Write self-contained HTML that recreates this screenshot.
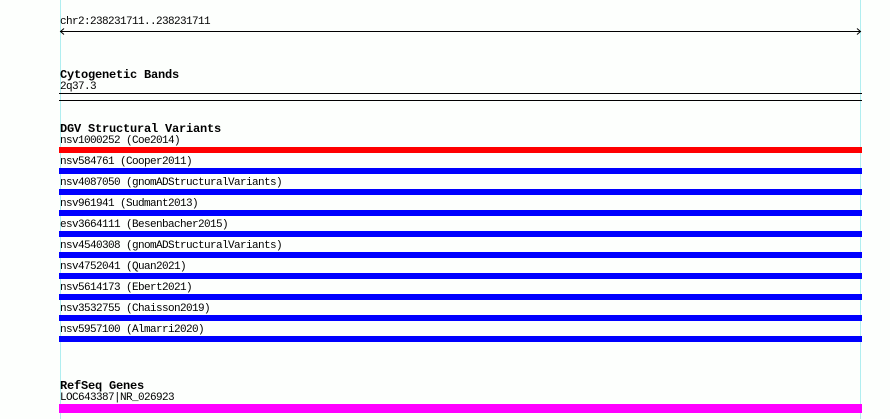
<!DOCTYPE html>
<html><head><meta charset="utf-8"><style>
html,body{margin:0;padding:0;background:#fdfffd;}
svg{display:block;}
text{font-family:"Liberation Mono","DejaVu Sans Mono",monospace;font-size:11px;letter-spacing:-0.6px;fill:#000;}
.b{font-weight:bold;font-size:12px;letter-spacing:-0.2px;}
</style></head><body>
<svg width="890" height="419" viewBox="0 0 890 419" xmlns="http://www.w3.org/2000/svg">
<rect width="890" height="419" fill="#fdfffd"/>
<line x1="60.5" y1="0" x2="60.5" y2="419" stroke="#b0eef0" stroke-width="1"/>
<line x1="860.5" y1="0" x2="860.5" y2="419" stroke="#b0eef0" stroke-width="1"/>
<text x="60" y="24">chr2:238231711..238231711</text>
<line x1="60" y1="31.5" x2="861" y2="31.5" stroke="#000"/>
<polyline points="64,28.5 60.5,31.5 64,34.5" fill="none" stroke="#000"/>
<polyline points="857,28.5 860.5,31.5 857,34.5" fill="none" stroke="#000"/>
<text class="b" x="60" y="78">Cytogenetic Bands</text>
<text x="60" y="89">2q37.3</text>
<line x1="59" y1="93.5" x2="862" y2="93.5" stroke="#000"/>
<line x1="59" y1="100.5" x2="862" y2="100.5" stroke="#000"/>
<text class="b" x="60" y="132">DGV Structural Variants</text>
<text x="60" y="143">nsv1000252 (Coe2014)</text>
<rect x="59" y="147" width="803" height="6" fill="#ff0000"/>
<text x="60" y="164">nsv584761 (Cooper2011)</text>
<rect x="59" y="168" width="803" height="6" fill="#0000ff"/>
<text x="60" y="185">nsv4087050 (gnomADStructuralVariants)</text>
<rect x="59" y="189" width="803" height="6" fill="#0000ff"/>
<text x="60" y="206">nsv961941 (Sudmant2013)</text>
<rect x="59" y="210" width="803" height="6" fill="#0000ff"/>
<text x="60" y="227">esv3664111 (Besenbacher2015)</text>
<rect x="59" y="231" width="803" height="6" fill="#0000ff"/>
<text x="60" y="248">nsv4540308 (gnomADStructuralVariants)</text>
<rect x="59" y="252" width="803" height="6" fill="#0000ff"/>
<text x="60" y="269">nsv4752041 (Quan2021)</text>
<rect x="59" y="273" width="803" height="6" fill="#0000ff"/>
<text x="60" y="290">nsv5614173 (Ebert2021)</text>
<rect x="59" y="294" width="803" height="6" fill="#0000ff"/>
<text x="60" y="311">nsv3532755 (Chaisson2019)</text>
<rect x="59" y="315" width="803" height="6" fill="#0000ff"/>
<text x="60" y="332">nsv5957100 (Almarri2020)</text>
<rect x="59" y="336" width="803" height="6" fill="#0000ff"/>
<text class="b" x="60" y="389">RefSeq Genes</text>
<text x="60" y="400">LOC643387|NR_026923</text>
<rect x="59" y="404" width="803" height="9" fill="#ff00ff"/>
</svg>
</body></html>
